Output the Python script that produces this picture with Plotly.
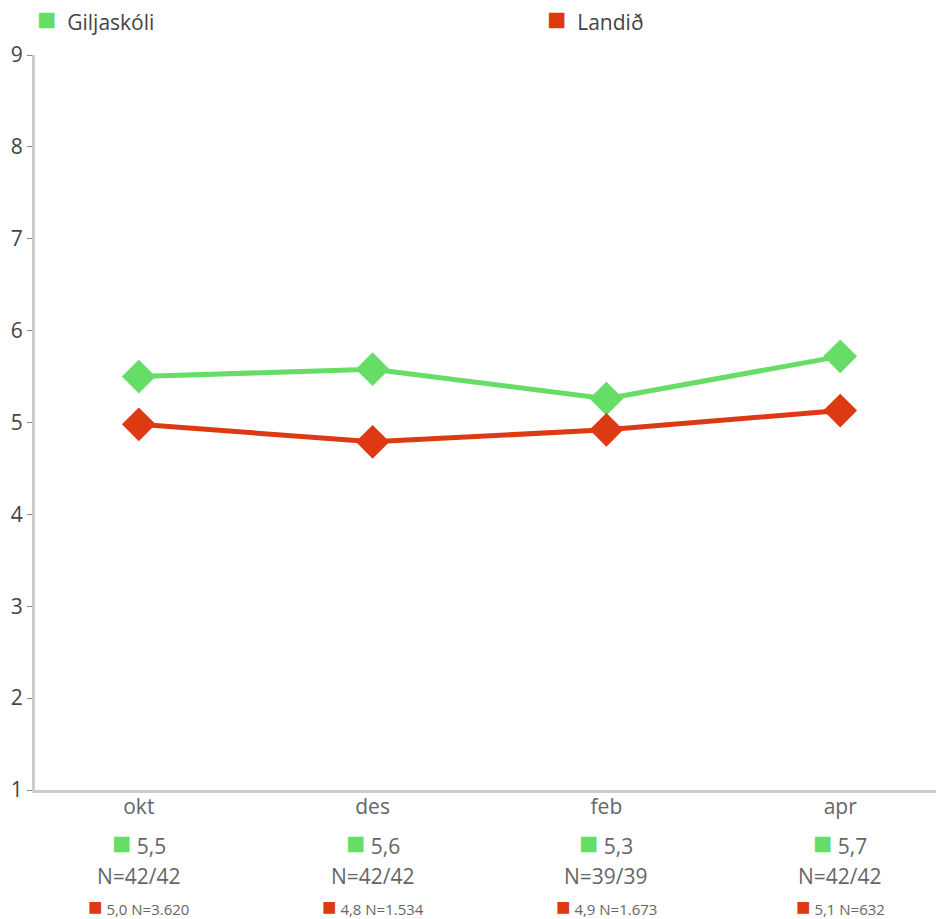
import plotly.graph_objects as go

categories = ["okt", "des", "feb", "apr"]
gilja_values = [5.50, 5.58, 5.26, 5.72]
land_values = [4.98, 4.79, 4.92, 5.13]
gilja_labels = ["5,5", "5,6", "5,3", "5,7"]
gilja_n = ["N=42/42", "N=42/42", "N=39/39", "N=42/42"]
land_labels = ["5,0 N=3.620", "4,8 N=1.534", "4,9 N=1.673", "5,1 N=632"]
series_names = ["Giljaskóli", "Landið"]

GREEN = "#66DD66"
RED = "#DD3A14"
FONT = "Open Sans"

fig = go.Figure()
fig.add_trace(go.Scatter(x=categories, y=gilja_values, mode="lines+markers",
                         line=dict(color=GREEN, width=5),
                         marker=dict(symbol="diamond", size=26, color=GREEN),
                         name=series_names[0], showlegend=False))
fig.add_trace(go.Scatter(x=categories, y=land_values, mode="lines+markers",
                         line=dict(color=RED, width=5),
                         marker=dict(symbol="diamond", size=26, color=RED),
                         name=series_names[1], showlegend=False))

annotations = []
# legend as annotations
for name, col, xp in zip(series_names, [GREEN, RED], [0.0, 0.561]):
    annotations.append(dict(x=xp, xref="paper", y=1.0, yref="paper", yanchor="bottom",
                            xanchor="left", yshift=14,
                            text=f"<span style='color:{col};font-size:32px'>■</span>&nbsp; {name}",
                            showarrow=False, font=dict(family=FONT, size=21, color="#444")))

for i, cat in enumerate(categories):
    annotations.append(dict(x=cat, xref="x", y=-0.070, yref="paper", yanchor="middle",
                            text=f"<span style='color:{GREEN};font-size:32px'>■</span>&nbsp;{gilja_labels[i]}",
                            showarrow=False, font=dict(family=FONT, size=21, color="#666")))
    annotations.append(dict(x=cat, xref="x", y=-0.117, yref="paper", yanchor="middle",
                            text=gilja_n[i],
                            showarrow=False, font=dict(family=FONT, size=21, color="#666")))
    annotations.append(dict(x=cat, xref="x", y=-0.157, yref="paper", yanchor="middle",
                            text=f"<span style='color:{RED};font-size:24px'>■</span>&nbsp;{land_labels[i]}",
                            showarrow=False, font=dict(family=FONT, size=15, color="#666")))

fig.update_layout(
    width=936, height=911,
    margin=dict(l=27, r=0, t=47, b=129, autoexpand=False),
    plot_bgcolor="white", paper_bgcolor="white",
    font=dict(family=FONT, color="#444"),
    showlegend=False,
    annotations=annotations,
)
fig.update_xaxes(range=[-0.444, 3.444], showline=True, linecolor="#cccccc", linewidth=3,
                 showgrid=False, zeroline=False, ticks="", automargin=False,
                 ticklabelstandoff=-4,
                 tickfont=dict(family=FONT, size=21, color="#666"))
fig.update_yaxes(range=[1, 9], dtick=1, showline=True, linecolor="#cccccc", linewidth=3,
                 showgrid=False, zeroline=False, ticks="outside", ticklen=5, automargin=False,
                 tickcolor="#888", tickwidth=1,
                 tickfont=dict(family=FONT, size=21, color="#444"))

fig.write_html("out.html")
